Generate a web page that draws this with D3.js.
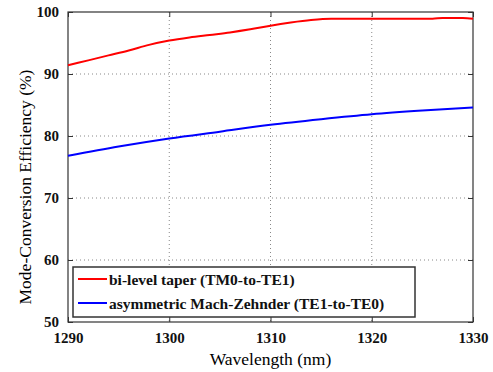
<!DOCTYPE html>
<html>
<head>
<meta charset="utf-8">
<script src="https://cdn.jsdelivr.net/npm/d3@7"></script>
<style>
  body { margin: 0; background: #fff; }
</style>
</head>
<body>
<div id="chart"></div>
<script>
// data
var redWave = [1290, 1292, 1294, 1296, 1298, 1300, 1302, 1304, 1306, 1308, 1310, 1312, 1314, 1316, 1318, 1320, 1322, 1324, 1326, 1327, 1329, 1330];
var redEff  = [91.4, 92.2, 93.0, 93.8, 94.7, 95.4, 95.9, 96.3, 96.7, 97.2, 97.8, 98.3, 98.7, 98.9, 98.9, 98.9, 98.9, 98.9, 98.9, 99.05, 99.05, 98.9];
var blueWave = [1290, 1295, 1300, 1305, 1310, 1315, 1320, 1325, 1330];
var blueEff  = [76.8, 78.3, 79.6, 80.7, 81.8, 82.7, 83.5, 84.1, 84.6];
var xTicks = [1290, 1300, 1310, 1320, 1330];
var yTicks = [50, 60, 70, 80, 90, 100];
var seriesNames = ["bi-level taper (TM0-to-TE1)", "asymmetric Mach-Zehnder (TE1-to-TE0)"];
var seriesColors = ["#ff0000", "#0000ff"];

var FONT = "'Liberation Serif'";
var W = 493, H = 372;
var margin = {left: 68, top: 12, right: 20, bottom: 50};
var width = W - margin.left - margin.right;
var height = H - margin.top - margin.bottom;

var svg = d3.select("#chart").append("svg")
    .attr("width", W)
    .attr("height", H)
  .append("g")
    .attr("transform", "translate(" + margin.left + "," + margin.top + ")");

var x = d3.scaleLinear().domain([1290, 1330]).range([0, width]);
var y = d3.scaleLinear().domain([50, 100]).range([height, 0]);

// dotted grid
svg.append("g").selectAll("line").data(xTicks.slice(1, -1)).enter().append("line")
    .attr("x1", function(d){ return x(d); }).attr("x2", function(d){ return x(d); })
    .attr("y1", 0).attr("y2", height)
    .attr("stroke", "#888").attr("stroke-dasharray", "1,3");
svg.append("g").selectAll("line").data(yTicks.slice(1, -1)).enter().append("line")
    .attr("y1", function(d){ return y(d); }).attr("y2", function(d){ return y(d); })
    .attr("x1", 0).attr("x2", width)
    .attr("stroke", "#888").attr("stroke-dasharray", "1,3");

// axes, ticks pointing in
var axisStyle = function (g){
  g.attr("font-family", FONT).attr("font-size", 15);
  g.selectAll(".domain").remove();
  g.selectAll("line").attr("stroke", "#333");
  g.selectAll("text")
    .style("font-family", FONT)
    .style("font-weight", "bold")
    .attr("fill", "#111");
};
svg.append("g")
    .attr("transform", "translate(0," + height + ")")
    .call(d3.axisBottom(x).tickValues(xTicks).tickFormat(d3.format("d")).tickSizeInner(-5).tickPadding(10))
    .call(axisStyle);
svg.append("g")
    .call(d3.axisLeft(y).tickValues(yTicks).tickSizeInner(-5).tickPadding(9))
    .call(axisStyle);
svg.append("g")
    .call(d3.axisTop(x).tickValues(xTicks).tickFormat("").tickSizeInner(-5))
    .call(axisStyle);
svg.append("g")
    .attr("transform", "translate(" + width + ",0)")
    .call(d3.axisRight(y).tickValues(yTicks).tickFormat("").tickSizeInner(-5))
    .call(axisStyle);

svg.append("rect")
    .attr("width", width).attr("height", height)
    .attr("fill", "none").attr("stroke", "#333").attr("stroke-width", 1.2);

// curves
var line = d3.line()
    .x(function(d){ return x(d[0]); })
    .y(function(d){ return y(d[1]); })
    .curve(d3.curveMonotoneX);

var series = [d3.zip(redWave, redEff), d3.zip(blueWave, blueEff)];
svg.selectAll(".curve").data(series).enter().append("path")
    .attr("class", "curve")
    .attr("d", line)
    .attr("fill", "none")
    .attr("stroke", function(d, i){ return seriesColors[i]; })
    .attr("stroke-width", 2);

// legend
var leg = svg.append("g").attr("transform", "translate(5,255)");
leg.append("rect")
    .attr("width", 342).attr("height", 50)
    .attr("fill", "#fff").attr("stroke", "#333").attr("stroke-width", 1.5);
var item = leg.selectAll(".item").data(seriesNames).enter().append("g")
    .attr("class", "item")
    .attr("transform", function(d, i){ return "translate(0," + (12 + i * 24) + ")"; });
item.append("line")
    .attr("x1", 5).attr("x2", 34)
    .attr("stroke", function(d, i){ return seriesColors[i]; })
    .attr("stroke-width", 2);
item.append("text")
    .attr("x", 36).attr("y", 6)
    .style("font-family", FONT)
    .style("font-size", "15.5px").style("font-weight", "bold")
    .attr("fill", "#111")
    .text(function(d){ return d; });

// axis titles
svg.append("text")
    .attr("x", width / 2).attr("y", height + 43)
    .attr("text-anchor", "middle")
    .style("font-family", FONT)
    .style("font-size", "17.5px")
    .text("Wavelength (nm)");
svg.append("text")
    .attr("transform", "translate(-37," + (height / 2 + 20) + ") rotate(-90)")
    .attr("text-anchor", "middle")
    .style("font-family", FONT)
    .style("font-size", "17.5px")
    .text("Mode-Conversion Efficiency (%)");
</script>
</body>
</html>
